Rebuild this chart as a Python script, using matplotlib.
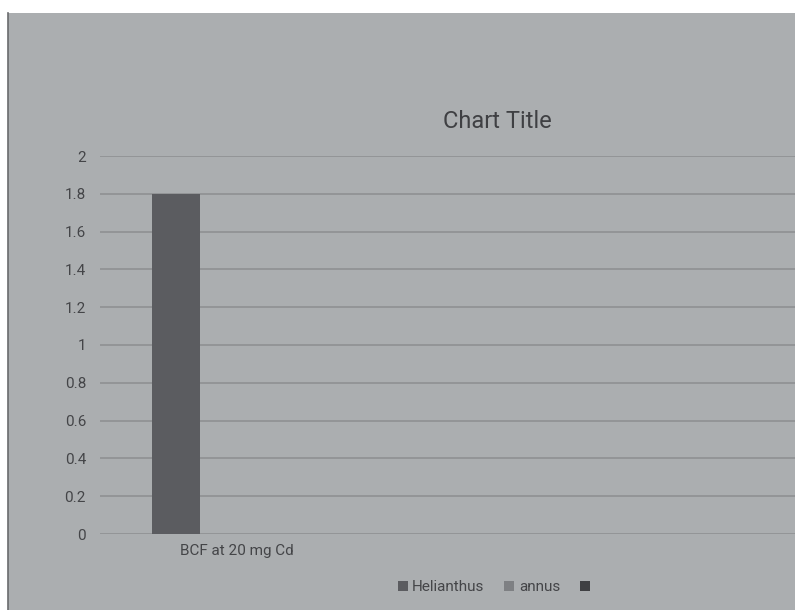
import matplotlib.pyplot as plt
from matplotlib.patches import Rectangle

plt.rcParams['font.family'] = ['Roboto', 'DejaVu Sans']

categories = ['BCF at 20 mg Cd']
series = ['Helianthus', 'annus', ' ']
values = [[1.8], [0], [0]]
colors = ['#5b5c60', '#7e8083', '#3f4043']

fig = plt.figure(figsize=(7.95, 6.10), dpi=100)
fig.patch.set_facecolor('white')
# grey chart area, cropped at top/left
fig.patches.append(Rectangle((8 / 795, 0), 1, (610 - 13) / 610, transform=fig.transFigure,
                             facecolor='#abaeb0', edgecolor='none', zorder=-10))
fig.lines.append(plt.Line2D([7.5 / 795, 7.5 / 795], [0, (610 - 13) / 610], transform=fig.transFigure,
                            color='#6a6b6d', lw=1.2, zorder=-5))

ax = fig.add_axes([100 / 795, (610 - 534) / 610, 695 / 795, (534 - 156) / 610])
ax.set_facecolor('none')

w = 48 / 274
off = 61 / 274
for i, (name, vals) in enumerate(zip(series, values)):
    xs = [j + (i - 1) * off for j in range(len(categories))]
    ax.bar(xs, vals, width=w, color=colors[i], label=name, zorder=3)

ax.set_xlim(-0.5, -0.5 + 695 / 274)
ax.set_ylim(0, 2)
ax.set_yticks([0, 0.2, 0.4, 0.6, 0.8, 1, 1.2, 1.4, 1.6, 1.8, 2])
ax.set_yticklabels(['0', '0.2', '0.4', '0.6', '0.8', '1', '1.2', '1.4', '1.6', '1.8', '2'])
ax.set_xticks(range(len(categories)))
ax.set_xticklabels(categories)
ax.tick_params(axis='both', length=0, labelsize=11, colors='#444548')
ax.tick_params(axis='y', pad=10)
ax.tick_params(axis='x', pad=7)
ax.yaxis.grid(True, color='#8f9193', lw=1.2, zorder=0)
for s in ax.spines.values():
    s.set_visible(False)

fig.text(497 / 795, 1 - 121 / 610, 'Chart Title', ha='center', va='center', fontsize=17, color='#3f4043')

leg = fig.legend(loc='center', bbox_to_anchor=(498 / 795, 1 - 587 / 610), ncol=3, frameon=False,
                 fontsize=11, handlelength=0.65, handleheight=0.65, handletextpad=0.3, columnspacing=1.3,
                 labelcolor='#444548')

fig.savefig('out.png', dpi=100)
